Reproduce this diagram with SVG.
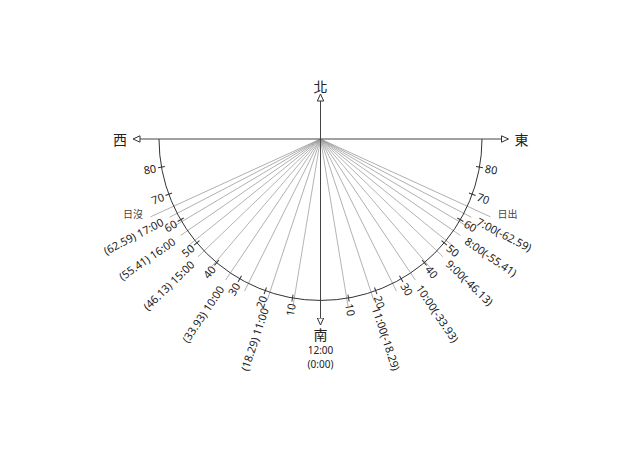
<svg xmlns="http://www.w3.org/2000/svg" width="640" height="453" viewBox="0 0 640 453">
<style>
.axis{stroke:#444;stroke-width:1;fill:none}
.arc{stroke:#333;stroke-width:1;fill:none}
.ray{stroke:#9a9a9a;stroke-width:0.7}
.tick{stroke:#333;stroke-width:1}
.t{font-family:"Noto Sans","Noto Sans CJK TC",sans-serif;font-size:11px;fill:#222}
.m{font-family:"Noto Sans","Noto Sans CJK TC",sans-serif;font-size:10px;fill:#222;text-anchor:middle;dominant-baseline:central}
.c{font-family:"Noto Sans CJK TC","Noto Sans",sans-serif;font-size:14px;fill:#222;text-anchor:middle;dominant-baseline:central}
.s{font-family:"Noto Sans CJK TC","Noto Sans",sans-serif;font-size:10px;fill:#444;text-anchor:middle;dominant-baseline:central}
.l{text-anchor:end;dominant-baseline:central}
.r{text-anchor:start;dominant-baseline:central}
</style>
<defs>
<marker id="tri" markerUnits="userSpaceOnUse" markerWidth="9" markerHeight="9" refX="0.5" refY="4" orient="auto" viewBox="0 0 9 8">
<path d="M0.5,0.8 L7.5,4 L0.5,7.2 Z" fill="#fff" stroke="#333" stroke-width="1"/>
</marker>
</defs>
<rect width="640" height="453" fill="#fff"/>
<g id="connectors">
<g id="rays" transform="translate(320.5 139)">
<line class="ray" x1="0" y1="0" x2="0" y2="170" transform="rotate(9.34)"/>
<line class="ray" x1="0" y1="0" x2="0" y2="170" transform="rotate(18.29)"/>
<line class="ray" x1="0" y1="0" x2="0" y2="170" transform="rotate(26.54)"/>
<line class="ray" x1="0" y1="0" x2="0" y2="170" transform="rotate(33.93)"/>
<line class="ray" x1="0" y1="0" x2="0" y2="170" transform="rotate(40.44)"/>
<line class="ray" x1="0" y1="0" x2="0" y2="170" transform="rotate(46.13)"/>
<line class="ray" x1="0" y1="0" x2="0" y2="170" transform="rotate(51.09)"/>
<line class="ray" x1="0" y1="0" x2="0" y2="170" transform="rotate(55.41)"/>
<line class="ray" x1="0" y1="0" x2="0" y2="170" transform="rotate(59.23)"/>
<line class="ray" x1="0" y1="0" x2="0" y2="170" transform="rotate(62.59)"/>
<line class="ray" x1="0" y1="0" x2="0" y2="187" transform="rotate(65.4)"/>
<line class="ray" x1="0" y1="0" x2="0" y2="170" transform="rotate(-9.34)"/>
<line class="ray" x1="0" y1="0" x2="0" y2="170" transform="rotate(-18.29)"/>
<line class="ray" x1="0" y1="0" x2="0" y2="170" transform="rotate(-26.54)"/>
<line class="ray" x1="0" y1="0" x2="0" y2="170" transform="rotate(-33.93)"/>
<line class="ray" x1="0" y1="0" x2="0" y2="170" transform="rotate(-40.44)"/>
<line class="ray" x1="0" y1="0" x2="0" y2="170" transform="rotate(-46.13)"/>
<line class="ray" x1="0" y1="0" x2="0" y2="170" transform="rotate(-51.09)"/>
<line class="ray" x1="0" y1="0" x2="0" y2="170" transform="rotate(-55.41)"/>
<line class="ray" x1="0" y1="0" x2="0" y2="170" transform="rotate(-59.23)"/>
<line class="ray" x1="0" y1="0" x2="0" y2="170" transform="rotate(-62.59)"/>
<line class="ray" x1="0" y1="0" x2="0" y2="187" transform="rotate(-65.4)"/>
</g>
<path class="arc" d="M159,139 A161.5,161.5 0 0 0 482,139"/>
<g id="ticks" transform="translate(320.5 139)">
<line class="tick" x1="0" y1="158" x2="0" y2="165" transform="rotate(10)"/>
<line class="tick" x1="0" y1="158" x2="0" y2="165" transform="rotate(20)"/>
<line class="tick" x1="0" y1="158" x2="0" y2="165" transform="rotate(30)"/>
<line class="tick" x1="0" y1="158" x2="0" y2="165" transform="rotate(40)"/>
<line class="tick" x1="0" y1="158" x2="0" y2="165" transform="rotate(50)"/>
<line class="tick" x1="0" y1="158" x2="0" y2="165" transform="rotate(60)"/>
<line class="tick" x1="0" y1="158" x2="0" y2="165" transform="rotate(70)"/>
<line class="tick" x1="0" y1="158" x2="0" y2="165" transform="rotate(80)"/>
<line class="tick" x1="0" y1="158" x2="0" y2="165" transform="rotate(-10)"/>
<line class="tick" x1="0" y1="158" x2="0" y2="165" transform="rotate(-20)"/>
<line class="tick" x1="0" y1="158" x2="0" y2="165" transform="rotate(-30)"/>
<line class="tick" x1="0" y1="158" x2="0" y2="165" transform="rotate(-40)"/>
<line class="tick" x1="0" y1="158" x2="0" y2="165" transform="rotate(-50)"/>
<line class="tick" x1="0" y1="158" x2="0" y2="165" transform="rotate(-60)"/>
<line class="tick" x1="0" y1="158" x2="0" y2="165" transform="rotate(-70)"/>
<line class="tick" x1="0" y1="158" x2="0" y2="165" transform="rotate(-80)"/>
</g>
<line class="axis" x1="320.5" y1="139" x2="320.5" y2="101" marker-end="url(#tri)"/>
<line class="axis" x1="320.5" y1="139" x2="320.5" y2="318" marker-end="url(#tri)"/>
<line class="axis" x1="320.5" y1="139" x2="140" y2="139" marker-end="url(#tri)"/>
<line class="axis" x1="320.5" y1="139" x2="501.5" y2="139" marker-end="url(#tri)"/>
</g>
<g id="node-north"><text class="c" x="320.5" y="86">北</text></g>
<g id="node-south"><text class="c" x="320.5" y="334">南</text>
<text class="m" x="320.5" y="349.5">12:00</text>
<text class="m" x="320.5" y="363.5">(0:00)</text></g>
<g id="node-west"><text class="c" x="120" y="138.5">西</text></g>
<g id="node-east"><text class="c" x="521.5" y="138.5">東</text></g>
<g id="node-sunset"><text class="s" x="133" y="213">日沒</text></g>
<g id="node-sunrise"><text class="s" x="507.5" y="213">日出</text></g>
<g id="node-degrees-west">
<text class="t l" x="-167" y="0" transform="translate(320.5 139) rotate(-80)">10</text>
<text class="t l" x="-167" y="0" transform="translate(320.5 139) rotate(-70)">20</text>
<text class="t l" x="-167" y="0" transform="translate(320.5 139) rotate(-60)">30</text>
<text class="t l" x="-167" y="0" transform="translate(320.5 139) rotate(-50)">40</text>
<text class="t l" x="-167" y="0" transform="translate(320.5 139) rotate(-40)">50</text>
<text class="t l" x="-167" y="0" transform="translate(320.5 139) rotate(-30)">60</text>
<text class="t l" x="-167" y="0" transform="translate(320.5 139) rotate(-20)">70</text>
<text class="t l" x="-167" y="0" transform="translate(320.5 139) rotate(-10)">80</text>
</g>
<g id="node-degrees-east">
<text class="t r" x="167" y="0" transform="translate(320.5 139) rotate(80)">10</text>
<text class="t r" x="167" y="0" transform="translate(320.5 139) rotate(70)">20</text>
<text class="t r" x="167" y="0" transform="translate(320.5 139) rotate(60)">30</text>
<text class="t r" x="167" y="0" transform="translate(320.5 139) rotate(50)">40</text>
<text class="t r" x="167" y="0" transform="translate(320.5 139) rotate(40)">50</text>
<text class="t r" x="167" y="0" transform="translate(320.5 139) rotate(30)">60</text>
<text class="t r" x="167" y="0" transform="translate(320.5 139) rotate(20)">70</text>
<text class="t r" x="167" y="0" transform="translate(320.5 139) rotate(10)">80</text>
</g>
<g id="node-hours-west">
<text class="t l" x="-178" y="0" transform="translate(320.5 139) rotate(-27.41)">(62.59) 17:00</text>
<text class="t l" x="-178" y="0" transform="translate(320.5 139) rotate(-34.59)">(55.41) 16:00</text>
<text class="t l" x="-178" y="0" transform="translate(320.5 139) rotate(-43.87)">(46.13) 15:00</text>
<text class="t l" x="-178" y="0" transform="translate(320.5 139) rotate(-56.07)">(33.93) 10:00</text>
<text class="t l" x="-178" y="0" transform="translate(320.5 139) rotate(-71.71)">(18.29) 11:00</text>
</g>
<g id="node-hours-east">
<text class="t r" x="177" y="0" transform="translate(320.5 139) rotate(27.41)">7:00(-62.59)</text>
<text class="t r" x="177" y="0" transform="translate(320.5 139) rotate(34.59)">8:00(-55.41)</text>
<text class="t r" x="177" y="0" transform="translate(320.5 139) rotate(43.87)">9:00(-46.13)</text>
<text class="t r" x="177" y="0" transform="translate(320.5 139) rotate(56.07)">10:00(-33.93)</text>
<text class="t r" x="177" y="0" transform="translate(320.5 139) rotate(71.71)">11:00(-18.29)</text>
</g>
</svg>
